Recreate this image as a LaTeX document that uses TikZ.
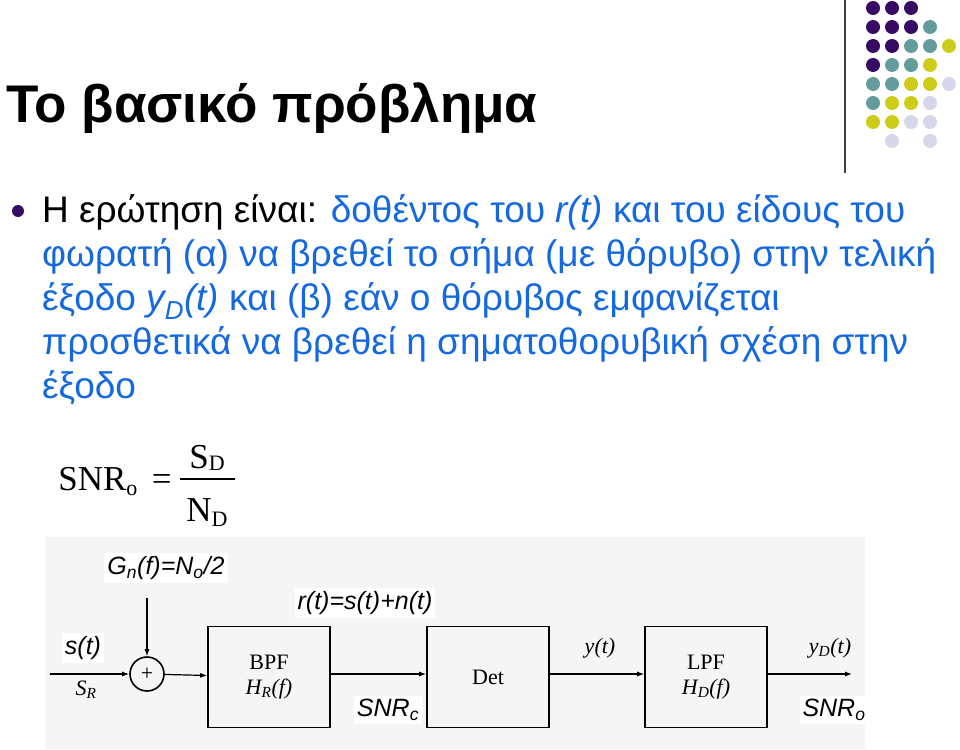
\documentclass[tikz,border=0pt]{standalone}
\usepackage{fontspec}
\setmainfont{Liberation Sans}
\newfontfamily\tnr{Liberation Serif}
\usetikzlibrary{arrows.meta}
\definecolor{bl}{RGB}{20,105,225}
\definecolor{cP}{RGB}{55,10,100}
\definecolor{cT}{RGB}{100,155,155}
\definecolor{cY}{RGB}{205,205,25}
\definecolor{cL}{RGB}{215,215,235}
\definecolor{cN}{RGB}{255,255,255}
\tikzset{
  blk/.style={draw,line width=1.6pt,minimum width=122pt,minimum height=101pt,inner sep=0pt},
  sig/.style={line width=1.2pt,-{Latex[length=7pt,width=5pt]}},
  lbl/.style={fill=white,inner sep=3pt,font=\fontsize{25}{25}\selectfont\itshape},
  scan/.style={font=\tnr\fontsize{22}{25}\selectfont,align=center},
  body/.style={anchor=base west,inner sep=0pt,font=\fontsize{37}{37}\selectfont},
  dot/.style={circle,minimum size=14pt,inner sep=0pt}
}
\begin{document}
\begin{tikzpicture}[x=1pt,y=-1pt]
\useasboundingbox (0,0) rectangle (960,749);
\fill[white] (0,0) rectangle (960,749);
% decoration
\draw[line width=1.2pt,black!75] (845,0) -- (845,173);
\foreach \r/\cols in {0/{P,P,P,N,N},1/{P,P,P,T,N},2/{P,P,T,T,Y},3/{P,T,T,Y,N},4/{T,T,Y,Y,L},5/{T,Y,Y,L,N},6/{Y,Y,L,L,N},7/{N,L,N,L,N}}{
  \foreach \c [count=\i from 0] in \cols {
    \node[dot,fill=c\c] at (873+19*\i,8+19*\r) {};
  }
}
% title
\node[anchor=base west,inner sep=0pt,font=\bfseries\fontsize{53}{53}\selectfont] (title) at (6,122) {Το βασικό πρόβλημα};
% bullet text
\node[circle,fill=cP,minimum size=12pt,inner sep=0pt] (bul) at (18,211) {};
\node[body] (l1) at (42,222) {Η ερώτηση είναι: \textcolor{bl}{δοθέντος του \textit{r(t)} και του είδους του}};
\node[body,text=bl] (l2) at (42,266) {φωρατή (α) να βρεθεί το σήμα (με θόρυβο) στην τελική};
\node[body,text=bl] (l3) at (42,310) {έξοδο \textit{y\textsubscript{D}(t)} και (β) εάν ο θόρυβος εμφανίζεται};
\node[body,text=bl] (l4) at (42,354) {προσθετικά να βρεθεί η σηματοθορυβική σχέση στην};
\node[body,text=bl] (l5) at (42,398) {έξοδο};
% formula
\node[inner sep=0pt,font=\tnr\fontsize{35}{35}\selectfont] (snr) at (115,482) {SNR\raisebox{-5pt}{\fontsize{22}{22}\selectfont o} \,=};
\node[inner sep=0pt,font=\tnr\fontsize{35}{35}\selectfont] (sd) at (207,458) {S\raisebox{-2pt}{\fontsize{22}{22}\selectfont D}};
\node[inner sep=0pt,font=\tnr\fontsize{35}{35}\selectfont] (nd) at (207,513) {N\raisebox{-5pt}{\fontsize{22}{22}\selectfont D}};
\draw[line width=1.2pt] (180,479) -- (235,479);
% diagram background
\fill[black!4] (45,537) rectangle (865,749);
\node[blk] (bpf) at (269,677) {};
\node[blk] (det) at (488,677) {};
\node[blk] (lpf) at (706,677) {};
\node[draw,circle,line width=1.6pt,minimum size=34pt,inner sep=0pt] (sum) at (147,674) {};
\node[scan] at (sum) {+};
\node[scan] at (269,677) {BPF\\\textit{H\textsubscript{R}(f)}};
\node[scan] at (488,677) {Det};
\node[scan] at (706,677) {LPF\\\textit{H\textsubscript{D}(f)}};
\coordinate (in) at (50,674);
\coordinate (out) at (852,674);
\coordinate (noise) at (147,598);
\draw[sig] (in) -- (sum);
\draw[sig] (noise) -- (sum);
\draw[sig] (sum) -- (bpf);
\draw[sig] (bpf.east |- 674,674) -- (det.west |- 674,674);
\draw[sig] (det.east |- 674,674) -- (lpf.west |- 674,674);
\draw[sig] (lpf.east |- 674,674) -- (out);
\node[scan,font=\tnr\fontsize{22}{25}\selectfont\itshape] (sr) at (86,690) {S\textsubscript{R}};
\node[scan,font=\tnr\fontsize{22}{25}\selectfont\itshape] (yt) at (600,648) {y(t)};
\node[scan,font=\tnr\fontsize{22}{25}\selectfont\itshape] (ydt) at (830,648) {y\textsubscript{D}(t)};
\node[lbl] (gn) at (166,568) {G\textsubscript{n}(f)=N\textsubscript{o}/2};
\node[lbl] (rt) at (365,603) {r(t)=s(t)+n(t)};
\node[lbl] (st) at (83,648) {s(t)};
\node[lbl] (snrc) at (388,710) {SNR\textsubscript{c}};
\node[lbl] (snro) at (834,710) {SNR\textsubscript{o}};
\end{tikzpicture}
\end{document}
